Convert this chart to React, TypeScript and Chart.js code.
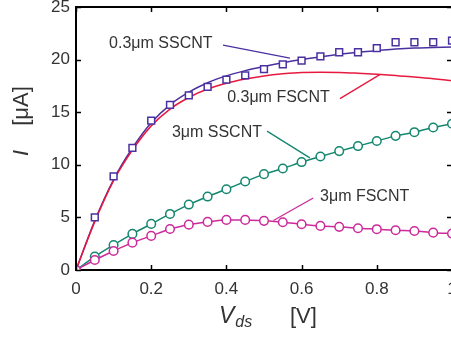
import React, { useEffect, useRef } from "react";
import { Chart, registerables } from "chart.js";

Chart.register(...registerables);

// Common Vds grid (V)
const vds = [0, 0.05, 0.1, 0.15, 0.2, 0.25, 0.3, 0.35, 0.4, 0.45, 0.5, 0.55, 0.6, 0.65, 0.7, 0.75, 0.8, 0.85, 0.9, 0.95, 1.0];

// 0.3um SSCNT measured (squares), from 0.05 V
const vdsSquares = [0.05, 0.1, 0.15, 0.2, 0.25, 0.3, 0.35, 0.4, 0.45, 0.5, 0.55, 0.6, 0.65, 0.7, 0.75, 0.8, 0.85, 0.9, 0.95, 1.0];
const ssShortMeas = [5.0, 8.9, 11.6, 14.2, 15.7, 16.6, 17.4, 18.1, 18.5, 19.1, 19.55, 19.9, 20.3, 20.7, 20.7, 21.1, 21.65, 21.65, 21.65, 21.8];

// 0.3um SSCNT model line
const ssShortLine = [0, 4.7, 8.6, 11.6, 14.0, 15.7, 16.9, 17.8, 18.45, 18.95, 19.35, 19.7, 20.0, 20.25, 20.5, 20.7, 20.85, 21.0, 21.1, 21.15, 21.2];
// 0.3um FSCNT model line
const fsShortLine = [0, 4.6, 8.5, 11.4, 13.7, 15.3, 16.4, 17.2, 17.75, 18.15, 18.45, 18.65, 18.78, 18.8, 18.78, 18.7, 18.6, 18.48, 18.35, 18.18, 18.0];
// 3um SSCNT
const ssLong = [0, 1.27, 2.38, 3.43, 4.38, 5.33, 6.22, 6.98, 7.68, 8.41, 9.11, 9.65, 10.26, 10.79, 11.3, 11.78, 12.26, 12.75, 13.1, 13.55, 13.9];
// 3um FSCNT
const fsLong = [0, 0.95, 1.81, 2.6, 3.24, 3.9, 4.31, 4.57, 4.76, 4.76, 4.67, 4.54, 4.35, 4.19, 4.1, 3.97, 3.88, 3.78, 3.71, 3.55, 3.46];

const xTicks = [0, 0.2, 0.4, 0.6, 0.8, 1];
const yTicks = [0, 5, 10, 15, 20, 25];

const PURPLE = "#4B30A0";
const RED = "#E8193F";
const TEAL = "#13876F";
const MAGENTA = "#CC2A9B";

// Annotation labels (data coordinates)
const labelTexts = ["0.3\u03bcm SSCNT", "0.3\u03bcm FSCNT", "3\u03bcm SSCNT", "3\u03bcm FSCNT"];
const labelColors = [PURPLE, RED, TEAL, MAGENTA];
const labelAnchors = [[0.088, 21.56], [0.402, 16.41], [0.255, 13.04], [0.649, 6.97]];
const leaderStarts = [[0.391, 21.37], [0.702, 16.29], [0.508, 13.2], [0.631, 6.84]];
const leaderEnds = [[0.569, 20.13], [0.809, 18.6], [0.622, 10.66], [0.525, 4.7]];

const FONT = "'Liberation Sans', Arial, Helvetica, sans-serif";

const pts = (xs: number[], ys: number[]) => xs.map((x, i) => ({ x, y: ys[i] }));

const decorPlugin = {
  id: "decor",
  afterDraw(chart: any) {
    const { ctx, chartArea } = chart;
    const xs = chart.scales.x;
    const ys = chart.scales.y;
    const { left, right, top, bottom } = chartArea;
    ctx.save();
    // frame top & right
    ctx.strokeStyle = "#000";
    ctx.lineWidth = 2;
    ctx.beginPath();
    ctx.moveTo(left, top);
    ctx.lineTo(right, top);
    ctx.lineTo(right, bottom);
    ctx.stroke();
    // inward ticks
    ctx.lineWidth = 1.5;
    const tl = 5;
    ctx.beginPath();
    xTicks.forEach((v) => {
      const px = Math.round(xs.getPixelForValue(v)) + 0.5;
      ctx.moveTo(px, bottom);
      ctx.lineTo(px, bottom - tl);
      ctx.moveTo(px, top);
      ctx.lineTo(px, top + tl);
    });
    yTicks.forEach((v) => {
      const py = Math.round(ys.getPixelForValue(v)) + 0.5;
      ctx.moveTo(left, py);
      ctx.lineTo(left + tl, py);
      ctx.moveTo(right, py);
      ctx.lineTo(right - tl, py);
    });
    ctx.stroke();

    // annotations
    ctx.font = `16px ${FONT}`;
    ctx.textBaseline = "middle";
    ctx.textAlign = "left";
    labelTexts.forEach((t, i) => {
      ctx.fillStyle = "#333";
      ctx.fillText(t, xs.getPixelForValue(labelAnchors[i][0]), ys.getPixelForValue(labelAnchors[i][1]));
      ctx.strokeStyle = labelColors[i];
      ctx.lineWidth = 1.3;
      ctx.beginPath();
      ctx.moveTo(xs.getPixelForValue(leaderStarts[i][0]), ys.getPixelForValue(leaderStarts[i][1]));
      ctx.lineTo(xs.getPixelForValue(leaderEnds[i][0]), ys.getPixelForValue(leaderEnds[i][1]));
      ctx.stroke();
    });

    // axis titles
    ctx.fillStyle = "#333";
    ctx.textBaseline = "alphabetic";
    ctx.textAlign = "left";
    const bx = left + 143;
    const by = bottom + 53;
    ctx.font = `italic 23px ${FONT}`;
    ctx.fillText("V", bx, by);
    const vw = ctx.measureText("V").width;
    ctx.font = `italic 16px ${FONT}`;
    ctx.fillText("ds", bx + vw + 1, by + 4);
    ctx.font = `22px ${FONT}`;
    ctx.fillText("[V]", left + 214, by);

    ctx.textAlign = "center";
    ctx.textBaseline = "middle";
    ctx.save();
    ctx.translate(22, 153);
    ctx.rotate(-Math.PI / 2);
    ctx.font = `italic 22px ${FONT}`;
    ctx.fillText("I", 0, 0);
    ctx.restore();
    ctx.save();
    ctx.translate(22, 106);
    ctx.rotate(-Math.PI / 2);
    ctx.font = `22px ${FONT}`;
    ctx.fillText("[\u03bcA]", 0, 0);
    ctx.restore();
    ctx.restore();
  },
};

export default function App() {
  const ref = useRef<HTMLCanvasElement | null>(null);
  useEffect(() => {
    if (!ref.current) return;
    const chart = new Chart(ref.current, {
      type: "line",
      data: {
        datasets: [
          {
            label: "0.3um SSCNT meas",
            data: pts(vdsSquares, ssShortMeas),
            showLine: false,
            pointStyle: "rect",
            pointRadius: 4.8,
            pointBorderWidth: 1.5,
            pointBackgroundColor: "#fff",
            pointBorderColor: PURPLE,
            borderColor: PURPLE,
          },
          {
            label: "3um FSCNT",
            data: pts(vds, fsLong),
            borderColor: MAGENTA,
            borderWidth: 1.5,
            pointRadius: 4.3,
            pointBorderWidth: 1.5,
            pointBackgroundColor: "#fff",
            pointBorderColor: MAGENTA,
            cubicInterpolationMode: "monotone",
          },
          {
            label: "3um SSCNT",
            data: pts(vds, ssLong),
            borderColor: TEAL,
            borderWidth: 1.5,
            pointRadius: 4.3,
            pointBorderWidth: 1.5,
            pointBackgroundColor: "#fff",
            pointBorderColor: TEAL,
            cubicInterpolationMode: "monotone",
          },
          {
            label: "0.3um FSCNT",
            data: pts(vds, fsShortLine),
            borderColor: RED,
            borderWidth: 1.5,
            pointRadius: 0,
            cubicInterpolationMode: "monotone",
          },
          {
            label: "0.3um SSCNT",
            data: pts(vds, ssShortLine),
            borderColor: PURPLE,
            borderWidth: 1.5,
            pointRadius: 0,
            cubicInterpolationMode: "monotone",
          },
        ],
      },
      options: {
        responsive: false,
        animation: false,
        devicePixelRatio: 1,
        layout: { padding: { left: 0, top: 7, right: 18, bottom: 0 } },
        plugins: { legend: { display: false }, tooltip: { enabled: false } },
        scales: {
          x: {
            type: "linear",
            min: 0,
            max: 1,
            grid: { display: false, drawTicks: false },
            border: { display: true, color: "#000", width: 2 },
            afterBuildTicks: (s: any) => {
              s.ticks = xTicks.map((v) => ({ value: v }));
            },
            ticks: {
              padding: 9,
              color: "#333",
              font: { family: FONT, size: 17 },
              callback: (v: any) => String(Number(Number(v).toFixed(1))),
            },
            afterFit: (s: any) => {
              s.height = 68;
              s.paddingLeft = 0;
              s.paddingRight = 0;
            },
          },
          y: {
            type: "linear",
            min: 0,
            max: 25,
            grid: { display: false, drawTicks: false },
            border: { display: true, color: "#000", width: 2 },
            afterBuildTicks: (s: any) => {
              s.ticks = yTicks.map((v) => ({ value: v }));
            },
            ticks: {
              padding: 6,
              color: "#333",
              font: { family: FONT, size: 17 },
            },
            afterFit: (s: any) => {
              s.width = 76;
              s.paddingTop = 0;
              s.paddingBottom = 0;
            },
          },
        },
      },
      plugins: [decorPlugin],
    } as any);
    return () => chart.destroy();
  }, []);
  return (
    <div style={{ position: "absolute", left: 0, top: 0, width: 451, height: 338, overflow: "hidden", background: "#fff" }}>
      <canvas ref={ref} width={470} height={338} style={{ display: "block" }} />
    </div>
  );
}
